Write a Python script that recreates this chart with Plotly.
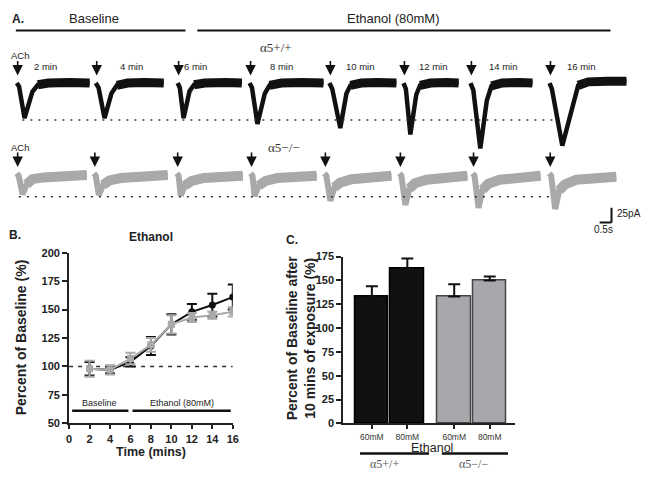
import plotly.graph_objects as go

W, H = 653, 482
def px(x): return x / W
def py(y): return 1 - y / H

SANS = "Liberation Sans, Arial, sans-serif"
SERIF = "Liberation Serif, Times New Roman, serif"
BLACK = "#111111"
GRAY = "#a9a9a9"

# ---------------- Panel A : ACh-evoked currents ----------------
sweep_labels = ["2 min", "4 min", "6 min", "8 min", "10 min", "12 min", "14 min", "16 min"]
# onset (ACh arrow) of each sweep along the page time axis (s)
wt_onsets_s = [0.62, 3.96, 7.42, 10.46, 13.83, 16.96, 19.79, 23.13]
ko_onsets_s = [0.62, 3.88, 7.38, 10.50, 13.62, 16.79, 19.88, 23.12]

# alpha5+/+ sweeps: time from ACh (s) and current (pA)
wt_t = [
    [-0.04, 0.06, 0.29, 0.45, 0.62, 0.85, 1.3, 2.2, 3.04],
    [-0.04, 0.08, 0.33, 0.48, 0.62, 0.85, 1.3, 2.0, 2.83],
    [-0.04, 0.05, 0.21, 0.33, 0.46, 0.65, 1.1, 2.0, 2.67],
    [-0.04, 0.06, 0.29, 0.45, 0.60, 0.80, 1.3, 2.2, 3.08],
    [-0.04, 0.08, 0.42, 0.55, 0.68, 0.85, 1.3, 2.0, 2.79],
    [-0.04, 0.06, 0.25, 0.38, 0.50, 0.66, 1.1, 1.8, 2.29],
    [-0.04, 0.08, 0.375, 0.50, 0.65, 0.85, 1.3, 2.0, 2.58],
    [-0.04, 0.06, 0.50, 0.70, 0.92, 1.17, 1.6, 2.4, 3.21],
]
wt_i = [
    [0, -6, -60, -36, -15, -3, 0, 1, 0],
    [0, -8, -60, -38, -18, -4, 0, 1, 0],
    [0, -8, -60, -35, -14, -3, 0, 1, 0],
    [0, -8, -70, -42, -18, -4, 0, 1, 0],
    [0, -10, -77, -45, -18, -4, 0, 1, 0],
    [0, -10, -88, -50, -20, -4, 0, 1, 0],
    [0, -12, -112, -70, -30, -5, 0, 1, 0],
    [0, -10, -107, -75, -42, -4, 2, 3, 3],
]
# alpha5-/- sweeps
ko_t = [
    [-0.04, 0.04, 0.21, 0.38, 0.62, 1.1, 1.8, 2.92],
    [-0.04, 0.04, 0.17, 0.35, 0.62, 1.1, 1.8, 3.08],
    [-0.04, 0.04, 0.13, 0.30, 0.60, 1.1, 1.8, 2.75],
    [-0.04, 0.04, 0.13, 0.30, 0.60, 1.1, 1.8, 2.75],
    [-0.04, 0.04, 0.21, 0.38, 0.62, 1.1, 1.8, 2.79],
    [-0.04, 0.04, 0.21, 0.38, 0.62, 1.1, 1.8, 2.83],
    [-0.04, 0.04, 0.21, 0.38, 0.62, 1.1, 1.8, 2.83],
    [-0.04, 0.04, 0.21, 0.38, 0.62, 1.1, 1.8, 2.79],
]
ko_i = [
    [4, 0, -32, -15, -6, -3, -1, 1],
    [4, 0, -33, -16, -8, -4, -1, 1],
    [4, 0, -34, -17, -9, -4, -1, 0],
    [4, 0, -35, -17, -9, -4, -1, 0],
    [4, 0, -43, -20, -12, -6, -3, 0],
    [4, 0, -50, -22, -13, -7, -3, 0],
    [4, 0, -55, -24, -14, -7, -3, 0],
    [4, 0, -57, -25, -15, -7, -4, -2],
]
scale_pA = 25
scale_s = 0.5

# ---------------- Panel B : time course ----------------
time_min = [2, 4, 6, 8, 10, 12, 14, 16]
wt_pct = [98, 97, 104, 118, 137, 148, 154, 161]
wt_sem = [6, 3, 4, 8, 9, 7, 10, 11]
ko_pct = [98, 97, 107, 119, 137, 143, 145, 148]
ko_sem = [7, 4, 5, 6, 8, 4, 3, 4]

# ---------------- Panel C : bars ----------------
genotypes = ["\u03b15+/+", "\u03b15\u2212/\u2212"]
doses = ["60mM", "80mM"]
c_values = [[133, 162], [133, 150]]
c_sem = [[11, 11], [13, 4]]

fig = go.Figure()

# Panel A traces: thinner transient, thicker noisy plateau
for k in range(len(wt_t)):
    xs = [wt_onsets_s[k] + t for t in wt_t[k]]
    fig.add_trace(go.Scatter(x=xs, y=wt_i[k], mode="lines", line=dict(color=BLACK, width=4.5),
                             xaxis="x", yaxis="y", hoverinfo="skip"))
    fig.add_trace(go.Scatter(x=xs[5:], y=wt_i[k][5:], mode="lines", line=dict(color=BLACK, width=9),
                             xaxis="x", yaxis="y", hoverinfo="skip"))
for k in range(len(ko_t)):
    xs = [ko_onsets_s[k] + t for t in ko_t[k]]
    fig.add_trace(go.Scatter(x=xs, y=ko_i[k], mode="lines", line=dict(color=GRAY, width=6),
                             xaxis="x", yaxis="y2", hoverinfo="skip"))
    fig.add_trace(go.Scatter(x=xs[3:], y=ko_i[k][3:], mode="lines", line=dict(color=GRAY, width=10),
                             xaxis="x", yaxis="y2", hoverinfo="skip"))

# Panel B
fig.add_trace(go.Scatter(x=time_min, y=wt_pct, mode="lines+markers",
                         line=dict(color=BLACK, width=2),
                         marker=dict(symbol="circle", size=7, color=BLACK),
                         error_y=dict(type="data", array=wt_sem, color=BLACK, thickness=2, width=5),
                         xaxis="x3", yaxis="y3"))
fig.add_trace(go.Scatter(x=time_min, y=ko_pct, mode="lines+markers",
                         line=dict(color=GRAY, width=2),
                         marker=dict(symbol="square", size=7, color=GRAY),
                         error_y=dict(type="data", array=ko_sem, color=GRAY, thickness=2, width=5),
                         xaxis="x3", yaxis="y3"))

# Panel C
group_gap = 1.32
bar_pos, tick_text = [], []
for g in range(len(genotypes)):
    xs = [g * (len(doses) + group_gap - 1) + d for d in range(len(doses))]
    bar_pos += xs
    tick_text += doses
    fill = BLACK if g == 0 else "#a8a7ab"
    edge = "#000000" if g == 0 else "#444444"
    fig.add_trace(go.Bar(x=xs, y=c_values[g], width=0.94,
                         marker=dict(color=fill, line=dict(color=edge, width=1.5)),
                         error_y=dict(type="data", symmetric=False, array=c_sem[g],
                                      arrayminus=[0] * len(doses), color="#111111",
                                      thickness=2, width=6),
                         xaxis="x4", yaxis="y4"))

hidden = dict(visible=False, showgrid=False, zeroline=False, fixedrange=True)
tickbold = dict(family=SANS, size=11, color="#222", weight="bold")
common = dict(ticks="outside", tickwidth=2, tickcolor="#222", showline=True, linewidth=2,
              linecolor="#222", showgrid=False, zeroline=False)
fig.update_layout(
    width=W, height=H, margin=dict(l=0, r=0, t=0, b=0),
    paper_bgcolor="white", plot_bgcolor="rgba(0,0,0,0)", showlegend=False,
    bargap=0,
    xaxis=dict(domain=[0, 1], range=[0, W / 24], **hidden),
    yaxis=dict(domain=[py(170), py(30)], range=[(79 - 170) / 0.6, (79 - 30) / 0.6], **hidden),
    yaxis2=dict(domain=[py(240), py(140)], range=[(174 - 240) / 0.6, (174 - 140) / 0.6],
                anchor="x", **hidden),
    xaxis3=dict(domain=[px(67), px(233)], range=[0, 16], anchor="y3",
                tickvals=list(range(0, 17, 2)), ticklen=4, tickfont=tickbold, **common),
    yaxis3=dict(domain=[py(428), py(253)], range=[50, 200], anchor="x3",
                tickvals=list(range(50, 201, 25)), ticklen=5, tickfont=tickbold, **common),
    xaxis4=dict(domain=[px(345), px(519)], range=[(345 - 374) / 36, (519 - 374) / 36], anchor="y4",
                tickvals=bar_pos, ticktext=tick_text, ticklen=4,
                tickfont=dict(family=SANS, size=8.5, color="#333"), **common),
    yaxis4=dict(domain=[py(428), py(257)], range=[0, 175], anchor="x4",
                tickvals=list(range(0, 176, 25)), ticklen=5, tickfont=tickbold, **common),
)

shapes = []
# protocol bars on top of panel A
shapes.append(dict(type="line", xref="paper", yref="paper", x0=px(13), x1=px(185), y0=py(25), y1=py(25),
                   line=dict(color="#111", width=2)))
shapes.append(dict(type="line", xref="paper", yref="paper", x0=px(197), x1=px(616), y0=py(25), y1=py(25),
                   line=dict(color="#111", width=2)))
# dotted reference lines at the first-sweep peak
shapes.append(dict(type="line", xref="x", yref="y", x0=wt_onsets_s[0] + 0.2, x1=wt_onsets_s[-1] + 0.3,
                   y0=min(wt_i[0]) - 3, y1=min(wt_i[0]) - 3, line=dict(color="#333", width=1.5, dash="2px,6px")))
shapes.append(dict(type="line", xref="x", yref="y2", x0=ko_onsets_s[0] + 0.05, x1=ko_onsets_s[-1] + 0.15,
                   y0=min(ko_i[0]) - 4, y1=min(ko_i[0]) - 4, line=dict(color="#333", width=1.5, dash="2px,6px")))
# scale bar
sb_x, sb_y = 617 / 24, (174 - 222) / 0.6
shapes.append(dict(type="line", xref="x", yref="y2", x0=sb_x, x1=sb_x, y0=sb_y, y1=sb_y + scale_pA,
                   line=dict(color="#111", width=2)))
shapes.append(dict(type="line", xref="x", yref="y2", x0=sb_x - scale_s, x1=sb_x, y0=sb_y, y1=sb_y,
                   line=dict(color="#111", width=2)))
# Panel B dashed 100% line and protocol bars
shapes.append(dict(type="line", xref="x3", yref="y3", x0=0, x1=16, y0=100, y1=100,
                   line=dict(color="#333", width=1.5, dash="4px,5px"), layer="below"))
shapes.append(dict(type="line", xref="x3", yref="y3", x0=0.3, x1=5.8, y0=61, y1=61,
                   line=dict(color="#111", width=2.5)))
shapes.append(dict(type="line", xref="x3", yref="y3", x0=6.2, x1=15.8, y0=61, y1=61,
                   line=dict(color="#111", width=2.5)))
# Panel C genotype bars
shapes.append(dict(type="line", xref="paper", yref="paper", x0=px(362), x1=px(432), y0=py(459), y1=py(459),
                   line=dict(color="#111", width=2.5)))
shapes.append(dict(type="line", xref="paper", yref="paper", x0=px(445), x1=px(512), y0=py(459), y1=py(459),
                   line=dict(color="#111", width=2.5)))
fig.update_layout(shapes=shapes)

ann = []
def text(x, y, s, size=12, bold=False, family=SANS, color="#222", xanchor="center", angle=0, xref="paper", yref="paper"):
    ann.append(dict(x=x, y=y, xref=xref, yref=yref, text=("<b>%s</b>" % s) if bold else s,
                    showarrow=False, xanchor=xanchor, yanchor="middle", textangle=angle,
                    font=dict(family=family, size=size, color=color)))

# Panel A text
text(px(7), py(13), "A.", 12, True, xanchor="left")
text(px(92), py(13), "Baseline", 13)
text(px(395), py(13), "Ethanol (80mM)", 13)
text(px(277), py(43), genotypes[0], 13, family=SERIF, color="#333")
text(px(285), py(145), genotypes[1], 13, family=SERIF, color="#333")
text(px(17), py(51), "ACh", 9.5)
text(px(17), py(145), "ACh", 9.5)
label_x = [43, 130, 195, 282, 362, 437, 508, 587]
for k, s in enumerate(sweep_labels):
    text(px(label_x[k]), py(62), s, 9.5)
text(px(621), py(213), "25pA", 10, xanchor="left")
text(px(609), py(229), "0.5s", 10)

# arrows (ACh application)
for k in range(len(wt_onsets_s)):
    ann.append(dict(x=wt_onsets_s[k], y=13, xref="x", yref="y", ax=0, ay=-16, showarrow=True,
                    arrowhead=2, arrowsize=1.3, arrowwidth=1.6, arrowcolor="#111", text=""))
for k in range(len(ko_onsets_s)):
    ann.append(dict(x=ko_onsets_s[k], y=15, xref="x", yref="y2", ax=0, ay=-16, showarrow=True,
                    arrowhead=2, arrowsize=1.3, arrowwidth=1.6, arrowcolor="#111", text=""))

# Panel B text
text(px(12), py(235), "B.", 12, True)
text(px(150), py(237), "Ethanol", 12, True)
text(px(18), py(340), "Percent of Baseline (%)", 14, True, angle=-90)
text(px(150), py(457), "Time (mins)", 12.5, True)
text(3, 68, "Baseline", 9, xref="x3", yref="y3")
text(11, 68, "Ethanol (80mM)", 9, xref="x3", yref="y3")

# Panel C text
text(px(293), py(240), "C.", 12, True)
text(px(302), py(340), "Percent of Baseline after<br>10 mins of exposure (%)", 14, True, angle=-90)
text(px(435), py(453), "Ethanol", 12.5)
text(px(387), py(470), genotypes[0], 12, family=SERIF, color="#555")
text(px(477), py(470), genotypes[1], 12, family=SERIF, color="#555")

fig.update_layout(annotations=ann)
fig.write_html("out.html", config={"displayModeBar": False},
               post_script="document.body.style.margin='0';")
